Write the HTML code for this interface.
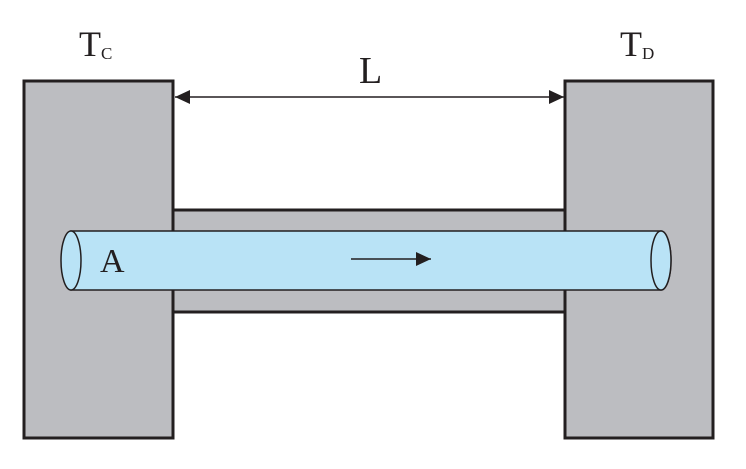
<!DOCTYPE html>
<html><head><style>html,body{margin:0;padding:0;background:#fff}</style></head>
<body>
<svg width="746" height="464" viewBox="0 0 746 464" xmlns="http://www.w3.org/2000/svg">
<defs>
<marker id="ah" markerWidth="16" markerHeight="14" refX="15" refY="7" orient="auto-start-reverse" markerUnits="userSpaceOnUse">
<path d="M0,0 L15,7 L0,14 Z" fill="#231f20"/>
</marker>
</defs>
<rect x="173" y="210" width="392" height="102" fill="#bcbdc1" stroke="#231f20" stroke-width="3"/>
<rect x="24" y="81" width="149" height="357" fill="#bcbdc1" stroke="#231f20" stroke-width="3"/>
<rect x="565" y="81" width="148" height="357" fill="#bcbdc1" stroke="#231f20" stroke-width="3"/>
<path d="M71,231 L661,231 A10,29.5 0 0 1 661,290 L71,290 Z" fill="#b9e3f6" stroke="#231f20" stroke-width="1.5"/>
<ellipse cx="71" cy="260.5" rx="10" ry="29.5" fill="#b9e3f6" stroke="#231f20" stroke-width="1.5"/>
<ellipse cx="661" cy="260.5" rx="10" ry="29.5" fill="#b9e3f6" stroke="#231f20" stroke-width="1.5"/>
<line x1="175" y1="97" x2="564" y2="97" stroke="#231f20" stroke-width="1.5" marker-start="url(#ah)" marker-end="url(#ah)"/>
<line x1="351" y1="259" x2="431" y2="259" stroke="#231f20" stroke-width="1.5" marker-end="url(#ah)"/>
<g font-family="Liberation Serif, serif" fill="#231f20">
<text x="79" y="56" font-size="36">T<tspan font-size="17" dy="3">C</tspan></text>
<text x="620" y="56" font-size="36">T<tspan font-size="17" dy="3">D</tspan></text>
<text x="359" y="83" font-size="38">L</text>
<text x="100" y="272" font-size="34">A</text>
</g>
</svg>
</body></html>
